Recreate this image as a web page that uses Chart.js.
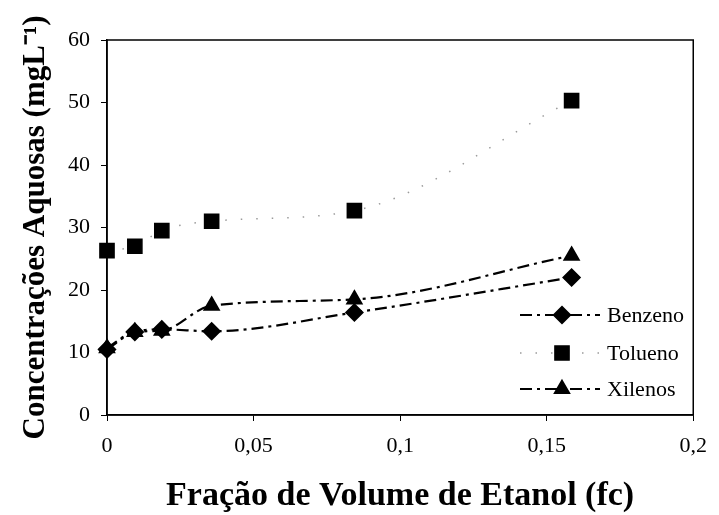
<!DOCTYPE html>
<html>
<head>
<meta charset="utf-8">
<style>
  html, body { margin: 0; padding: 0; background: #fff; }
  #wrap { width: 719px; height: 515px; }
</style>
</head>
<body>
<div id="wrap">
  <canvas id="myChart" width="719" height="515"></canvas>
</div>

<script src="https://cdn.jsdelivr.net/npm/chart.js"></script>

<script>
// fraction of ethanol volume (fc)
const fc = [0, 0.0095, 0.0187, 0.0357, 0.0844, 0.1585];
const benzeno = [10.5, 13.3, 13.7, 13.4, 16.4, 22.0];
const tolueno = [26.3, 27.0, 29.5, 31.0, 32.7, 50.3];
const xilenos = [10.7, 13.3, 13.5, 17.5, 18.5, 25.5];
const seriesNames = ["Benzeno", "Tolueno", "Xilenos"];

const serif = "'Liberation Serif', 'Times New Roman', serif";
const toPoints = ys => ys.map((y, i) => ({ x: fc[i], y: y }));

const styles = [
  { color: "#000", dash: [12, 5, 3, 5], width: 2.2, point: "rectRot", radius: 8 },
  { color: "#9a9a9a", dash: [1.5, 14], width: 1.5, point: "rect", radius: 10 },
  { color: "#000", dash: [12, 5, 3, 5], width: 2.2, point: "triangle", radius: 8 }
];

// frame + legend drawn inside the plot area
const framePlugin = {
  id: "frame",
  afterDraw(chart) {
    const { ctx, chartArea: a } = chart;
    ctx.save();
    ctx.strokeStyle = "#000";
    ctx.lineWidth = 1.5;
    ctx.strokeRect(a.left, a.top, a.right - a.left, a.bottom - a.top);

    const x0 = 520, x1 = 600, ys = [315, 353, 389];
    chart.data.datasets.forEach((ds, i) => {
      const s = styles[i];
      ctx.strokeStyle = s.color;
      ctx.lineWidth = s.width;
      ctx.setLineDash(s.dash);
      ctx.beginPath();
      ctx.moveTo(x0, ys[i]);
      ctx.lineTo(x1, ys[i]);
      ctx.stroke();
      ctx.setLineDash([]);
      ctx.fillStyle = "#000";
      ctx.strokeStyle = "#000";
      Chart.helpers.drawPoint(ctx, { pointStyle: s.point, radius: s.radius, rotation: 0, borderWidth: 1 }, 562, ys[i]);
      ctx.font = "22px " + serif;
      ctx.textBaseline = "middle";
      ctx.fillText(ds.label, 607, ys[i] + 1);
    });
    ctx.restore();
  }
};

const config = {
  type: "line",
  data: {
    datasets: [benzeno, tolueno, xilenos].map((ys, i) => ({
      label: seriesNames[i],
      data: toPoints(ys),
      borderColor: styles[i].color,
      borderDash: styles[i].dash,
      borderWidth: styles[i].width,
      pointStyle: styles[i].point,
      pointRadius: styles[i].radius,
      pointBackgroundColor: "#000",
      pointBorderColor: "#000",
      cubicInterpolationMode: "monotone",
      clip: false,
      fill: false
    }))
  },
  options: {
    responsive: false,
    animation: false,
    layout: { padding: { top: 40, right: 22, left: 0, bottom: 0 } },
    plugins: { legend: { display: false }, tooltip: { enabled: false } },
    scales: {
      x: {
        type: "linear",
        min: 0,
        max: 0.2,
        ticks: {
          stepSize: 0.05,
          color: "#000",
          padding: 12,
          font: { family: serif, size: 22 },
          callback: v => String(Math.round(v * 100) / 100).replace(".", ",")
        },
        grid: { display: true, drawOnChartArea: false, drawTicks: true, tickLength: 6, color: "#000" },
        border: { color: "#000", width: 1.5 },
        title: {
          display: true,
          text: "Fração de Volume de Etanol (fc)",
          color: "#000",
          font: { family: serif, size: 34, weight: "bold", lineHeight: 1 },
          padding: { top: 0, bottom: 2 }
        },
        afterFit: s => { s.height = 100; }
      },
      y: {
        min: 0,
        max: 60,
        ticks: {
          stepSize: 10,
          color: "#000",
          padding: 11,
          font: { family: serif, size: 22 }
        },
        grid: { display: true, drawOnChartArea: false, drawTicks: true, tickLength: 6, color: "#000" },
        border: { color: "#000", width: 1.5 },
        title: {
          display: true,
          text: "Concentrações Aquosas (mgL⁻¹)",
          color: "#000",
          font: { family: serif, size: 31, weight: "bold", lineHeight: 1 },
          padding: { top: 20, bottom: 0 }
        },
        afterFit: s => { s.width = 107; }
      }
    }
  },
  plugins: [framePlugin]
};

const ctx = document.getElementById("myChart");
const concChart = new Chart(ctx, config);
</script>
</body>
</html>
